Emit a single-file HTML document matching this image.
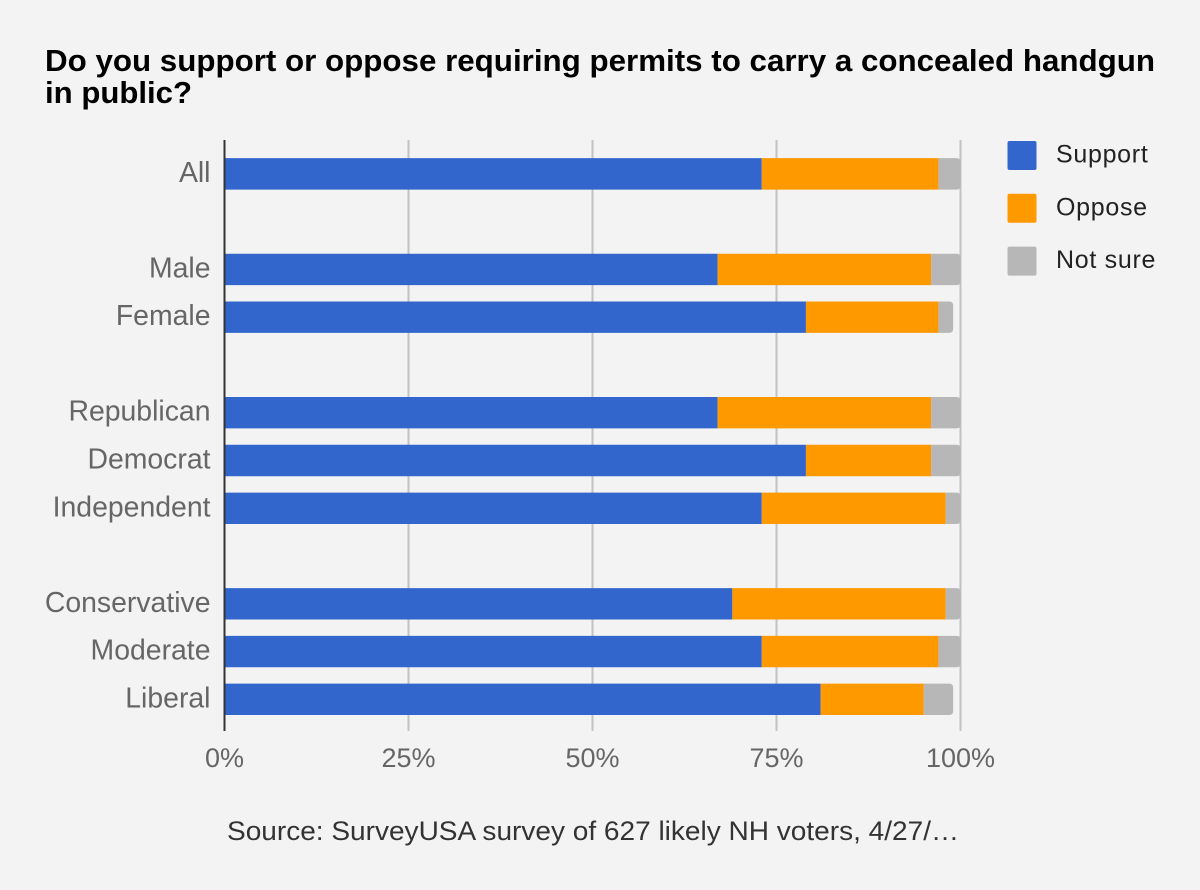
<!DOCTYPE html>
<html lang="en">
<head>
<meta charset="utf-8">
<title>Concealed handgun permit survey</title>
<style>
html,body{margin:0;padding:0;background:#f3f3f3;}
svg{display:block;font-family:"Liberation Sans",sans-serif;}
</style>
</head>
<body>
<svg id="chart" xmlns="http://www.w3.org/2000/svg" width="1200" height="890" viewBox="0 0 1200 890">
<rect x="0" y="0" width="1200" height="890" fill="#f3f3f3"/>
<text x="45" y="71" font-size="31" font-weight="700" fill="#000" textLength="1110" lengthAdjust="spacingAndGlyphs">Do you support or oppose requiring permits to carry a concealed handgun</text>
<text x="45" y="103" font-size="31" font-weight="700" fill="#000" textLength="147" lengthAdjust="spacingAndGlyphs">in public?</text>
<g id="grid"></g>
<g id="bars"></g>
<line x1="224.5" x2="224.5" y1="140" y2="731" stroke="#333" stroke-width="2"/>
<g id="ylabels"></g>
<g id="xlabels"></g>
<g id="legend"></g>
<text x="227" y="840" font-size="27" fill="#333" textLength="732" lengthAdjust="spacingAndGlyphs">Source: SurveyUSA survey of 627 likely NH voters, 4/27/…</text>
</svg>
<script>
const categories = ["All","","Male","Female","","Republican","Democrat","Independent","","Conservative","Moderate","Liberal"];
const support = [73,0,67,79,0,67,79,73,0,69,73,81];
const oppose = [24,0,29,18,0,29,17,25,0,29,24,14];
const notSure = [3,0,4,2,0,4,4,2,0,2,3,4];
const xTicks = [0,25,50,75,100];
const seriesNames = ["Support","Oppose","Not sure"];
const seriesColors = ["#3366cc","#ff9900","#b7b7b7"];

const NS = "http://www.w3.org/2000/svg";
const seriesValues = [support, oppose, notSure];
const xScale = v => 224.5 + v * 7.36;
const bandStep = 47.77;
const bandTop = 150;
const barHeight = 31.4;
const yScale = i => bandTop + (i + 0.5) * bandStep;

function make(tag, parent, attrs, text) {
  const el = document.createElementNS(NS, tag);
  for (const k in attrs) el.setAttribute(k, attrs[k]);
  if (text !== undefined) el.textContent = text;
  parent.appendChild(el);
  return el;
}

const gridG = document.getElementById("grid");
const xLabelG = document.getElementById("xlabels");
xTicks.forEach(t => {
  if (t !== 0) {
    const g = make("line", gridG, {x1: xScale(t), x2: xScale(t), y1: 140, y2: 731, stroke: "#c2c2c2", "stroke-width": 2});
    
    
  }
  const l = make("text", xLabelG, {x: xScale(t), y: 767, "text-anchor": "middle", "font-size": 27, fill: "#666"}, t + "%");
  
  
});

const barsG = document.getElementById("bars");
const yLabelG = document.getElementById("ylabels");
categories.forEach((cat, i) => {
  if (!cat) return;
  const top = yScale(i) - barHeight / 2;
  let cum = 0;
  seriesValues.forEach((vals, s) => {
    const x0 = xScale(cum);
    const x1 = xScale(cum + vals[i]);
    cum += vals[i];
    const r = 4;
    const left = s === 0 ? x0 + 1 : x0;
    const d = s === 2
      ? `M${left} ${top}H${x1 - r}Q${x1} ${top} ${x1} ${top + r}V${top + barHeight - r}Q${x1} ${top + barHeight} ${x1 - r} ${top + barHeight}H${left}Z`
      : `M${left} ${top}H${x1}V${top + barHeight}H${left}Z`;
    const seg = make("path", barsG, {d: d, fill: seriesColors[s]});
    
    
  });
  const lab = make("text", yLabelG, {x: 210.5, y: yScale(i) + 8, "text-anchor": "end", "font-size": 28.4, fill: "#666"}, cat);
  
  
});

const legendG = document.getElementById("legend");
seriesNames.forEach((name, s) => {
  const top = 141 + s * 52.8;
  const sw = make("rect", legendG, {x: 1007.5, y: top, width: 29, height: 29, rx: 2, fill: seriesColors[s]});
  
  
  const t = make("text", legendG, {x: 1056, y: top + 21.5, "font-size": 25, "letter-spacing": 0.7, fill: "#222"}, name);
  
  
});
</script>
</body>
</html>
